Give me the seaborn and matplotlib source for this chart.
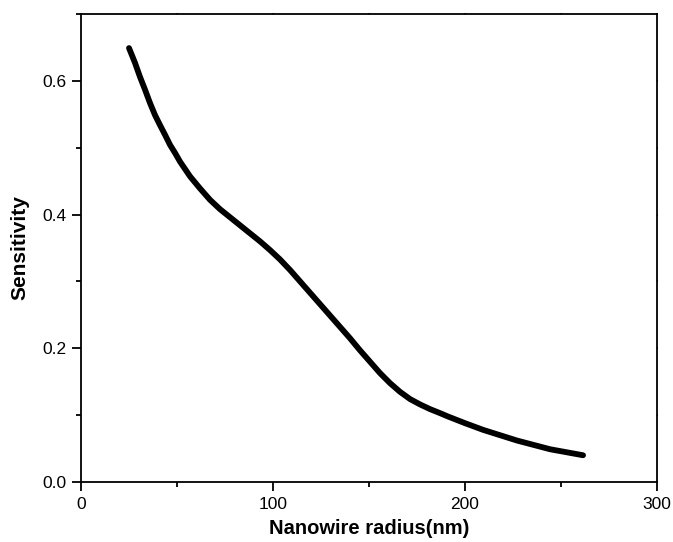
import matplotlib
matplotlib.use("Agg")
import matplotlib.pyplot as plt
from matplotlib.ticker import MultipleLocator
import pandas as pd
import seaborn as sns

# Sensitivity versus nanowire radius
radius_nm = [25.0, 28.1, 30.7, 33.3, 35.9, 38.5, 41.1, 43.8, 46.4, 49.0,
             51.6, 56.8, 62.0, 67.2, 72.4, 77.6, 82.8, 88.0, 93.2, 98.4,
             103.6, 108.9, 114.1, 119.3, 124.5, 129.7, 134.9, 140.1, 145.3, 150.5,
             155.7, 160.9, 166.1, 171.4, 176.6, 181.8, 187.0, 191.1, 200.0, 209.4,
             227.1, 244.3, 261.5]
sensitivity = [0.649, 0.627, 0.606, 0.587, 0.567, 0.549, 0.534, 0.519, 0.504, 0.492,
               0.479, 0.457, 0.439, 0.422, 0.408, 0.396, 0.384, 0.372, 0.360, 0.347,
               0.333, 0.317, 0.300, 0.283, 0.266, 0.249, 0.232, 0.215, 0.197, 0.180,
               0.163, 0.148, 0.135, 0.124, 0.116, 0.109, 0.103, 0.098, 0.088, 0.078,
               0.062, 0.049, 0.040]

x_ticks = [0, 100, 200, 300]
y_ticks = [0.0, 0.2, 0.4, 0.6]

sns.set_style("ticks")
plt.rcParams["font.family"] = ["Liberation Sans", "DejaVu Sans"]
plt.rcParams["text.color"] = "black"
plt.rcParams["axes.labelcolor"] = "black"

df = pd.DataFrame({"radius": radius_nm, "sensitivity": sensitivity})

fig = plt.figure(figsize=(6.73, 5.42), dpi=100)
ax = fig.add_axes([0.1204, 0.1107, 0.8558, 0.8635])

sns.lineplot(data=df, x="radius", y="sensitivity", ax=ax, color="black",
             linewidth=4.2, solid_capstyle="round", solid_joinstyle="round", sort=False)

ax.set_xlim(0, 300)
ax.set_ylim(0, 0.7)
ax.set_xticks(x_ticks)
ax.set_xticklabels([f"{v:d}" for v in x_ticks])
ax.set_yticks(y_ticks)
ax.set_yticklabels([f"{v:.1f}" for v in y_ticks])
ax.xaxis.set_minor_locator(MultipleLocator(50))
ax.yaxis.set_minor_locator(MultipleLocator(0.1))

for side in ["left", "right", "top", "bottom"]:
    ax.spines[side].set_visible(True)
    ax.spines[side].set_linewidth(1.3)
    ax.spines[side].set_color("black")

ax.tick_params(axis="both", which="major", direction="out", length=6.5, width=1.3,
               labelsize=12.5, colors="black", labelcolor="black", pad=4)
ax.tick_params(axis="both", which="minor", direction="out", length=3.5, width=1.3,
               colors="black")
ax.tick_params(axis="x", which="both", top=True, labeltop=False)
ax.tick_params(axis="y", which="both", right=True, labelright=False)
# Barely visible marks on the top and right frame
for t in ax.xaxis.get_major_ticks() + ax.xaxis.get_minor_ticks():
    t.tick2line.set_markersize(1.0)
for t in ax.yaxis.get_major_ticks() + ax.yaxis.get_minor_ticks():
    t.tick2line.set_markersize(1.0)

ax.set_xlabel("Nanowire radius(nm)", fontsize=14.5, fontweight="bold", labelpad=5,
              color="black")
ax.set_ylabel("Sensitivity", fontsize=15, fontweight="bold", labelpad=9, color="black")

fig.savefig("out.png", dpi=100, facecolor="white")
